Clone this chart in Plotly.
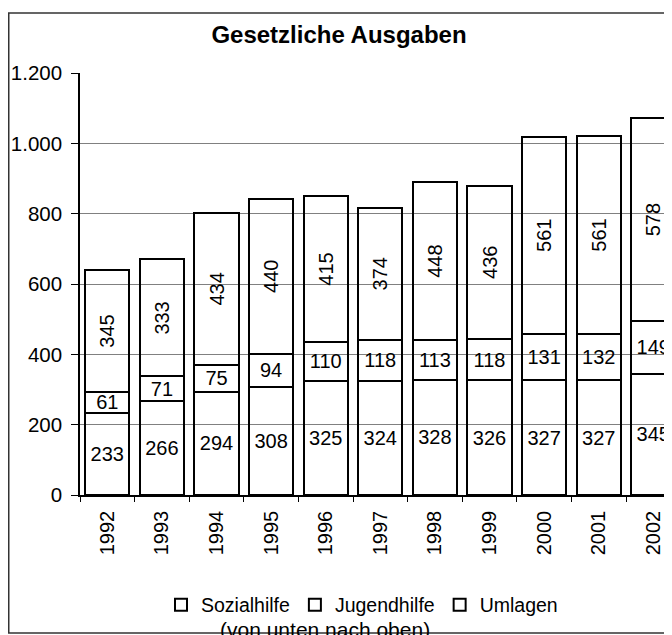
import plotly.graph_objects as go

years = ["1992", "1993", "1994", "1995", "1996", "1997", "1998", "1999", "2000", "2001", "2002"]
sozialhilfe = [233, 266, 294, 308, 325, 324, 328, 326, 327, 327, 345]
jugendhilfe = [61, 71, 75, 94, 110, 118, 113, 118, 131, 132, 149]
umlagen = [345, 333, 434, 440, 415, 374, 448, 436, 561, 561, 578]

FONT = "Liberation Sans, Arial, sans-serif"
OFF = 8  # default page body margin
W, H = 672 - OFF, 635 - OFF
L, T, R = 80 - OFF, 73 - OFF, 0
B = H - (495 - OFF)
ph = H - T - B
pw = W - L - R

def py(p):  # screen pixel -> paper y
    return ((495 - OFF) - (p - OFF)) / ph

def px(p):  # screen pixel -> paper x
    return ((p - OFF) - L) / pw

fig = go.Figure()
series = [("Sozialhilfe", sozialhilfe, 0), ("Jugendhilfe", jugendhilfe, 0), ("Umlagen", umlagen, -90)]
for name, vals, ang in series:
    fig.add_trace(go.Bar(
        x=years, y=vals, name=name,
        text=[str(v) for v in vals],
        textposition="inside", insidetextanchor="middle", textangle=ang,
        insidetextfont=dict(family=FONT, size=20, color="black"),
        marker=dict(color="rgba(255,255,255,0)", line=dict(color="black", width=2)),
    ))

cat_w = 54.6
fig.update_layout(
    width=W, height=H,
    margin=dict(l=L, r=R, t=T, b=B, autoexpand=False),
    barmode="stack", bargap=0.19,
    paper_bgcolor="white", plot_bgcolor="white",
    separators=",.",
    font=dict(family=FONT, size=20, color="black"),
    uniformtext=dict(minsize=20, mode="show"),
    title=dict(text="<b>Gesetzliche Ausgaben</b>", x=(339 - OFF) / W, xanchor="center",
               y=1 - (35 - OFF) / H, yanchor="middle", font=dict(size=24, family=FONT, color="black")),
    xaxis=dict(type="category", range=[-0.5, -0.5 + pw / cat_w], tickangle=-90,
               showline=True, linecolor="black", linewidth=1.5,
               ticks="outside", tickson="boundaries", ticklen=5, tickcolor="black",
               showgrid=False, tickfont=dict(size=20, family=FONT), ticklabelstandoff=6,
               automargin=False),
    yaxis=dict(range=[0, 1200], dtick=200, tickformat=",d",
               showline=True, linecolor="black", linewidth=1.5,
               ticks="outside", ticklen=7, tickcolor="black",
               showgrid=True, gridcolor="#808080", gridwidth=1, zeroline=False,
               tickfont=dict(size=20.5, family=FONT), ticklabelstandoff=5,
               automargin=False),
    showlegend=True,
    legend=dict(orientation="h", x=px(362), xanchor="center", xref="paper",
                y=py(605), yanchor="middle", traceorder="normal",
                font=dict(size=19.5, family=FONT), itemwidth=30, bgcolor="rgba(0,0,0,0)"),
    shapes=[dict(type="rect", xref="paper", yref="paper",
                 x0=px(8.75), x1=px(800), y0=py(633), y1=py(13),
                 line=dict(color="#333333", width=1.5), fillcolor="rgba(0,0,0,0)", layer="below")],
    annotations=[dict(text="(von unten nach oben)", xref="paper", yref="paper",
                      x=px(325), y=py(643), xanchor="center", yanchor="bottom",
                      showarrow=False, font=dict(size=21, family=FONT, color="black"))],
)

fig.write_html("out.html")
